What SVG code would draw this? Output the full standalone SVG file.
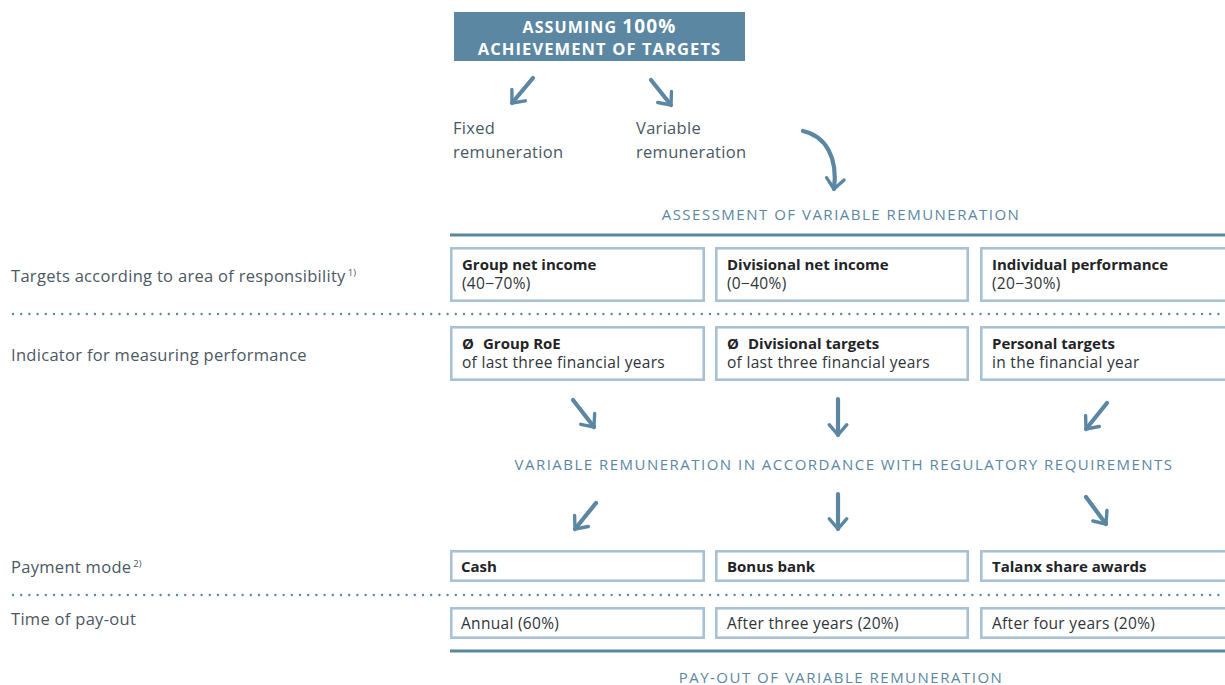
<svg xmlns="http://www.w3.org/2000/svg" width="1225" height="685" viewBox="0 0 1225 685">
<style>
.bg{fill:#ffffff}
.lbl{font-family:"Open Sans","Liberation Sans",sans-serif;font-size:16.5px;letter-spacing:0.3px;fill:#4b5863}
.sup{font-size:9.5px;letter-spacing:0}
.box{fill:#ffffff;stroke:#a8c1d4;stroke-width:2.6}
.bt{font-family:"Open Sans","Liberation Sans",sans-serif;font-size:15px;fill:#1f2428;font-weight:700}
.rt{font-family:"Open Sans","Liberation Sans",sans-serif;font-size:15.5px;letter-spacing:0.3px;fill:#2f3439}
.cap{font-family:"Open Sans","Liberation Sans",sans-serif;font-size:15px;fill:#5b87a3;letter-spacing:1.5px}
.rule{stroke:#5b87a3;stroke-width:3}
.dots{stroke:#5b87a3;stroke-width:2.4;stroke-dasharray:0 8.2;stroke-linecap:round}
.arr{fill:none;stroke:#5b87a3;stroke-width:4.2;stroke-linecap:round;stroke-linejoin:round}
.ttl{font-family:"Open Sans","Liberation Sans",sans-serif;font-weight:700;fill:#ffffff;letter-spacing:1.1px}
</style>
<defs>
<marker id="head" viewBox="-10 -10 20 20" markerWidth="7" markerHeight="7" orient="auto" markerUnits="strokeWidth" refX="0" refY="0">
<path d="M-7,-6 L0,0 L-7,6" fill="none" stroke="#5b87a3" stroke-width="2.3" stroke-linecap="round" stroke-linejoin="round"/>
</marker>
</defs>
<rect class="bg" x="0" y="0" width="1225" height="685"/>

<g id="title">
<rect x="454" y="12" width="291" height="49" fill="#5b87a3"/>
<text class="ttl" x="599.5" y="33" text-anchor="middle" font-size="16">ASSUMING <tspan font-size="19">100%</tspan></text>
<text class="ttl" x="599.5" y="55" text-anchor="middle" font-size="16.5">ACHIEVEMENT OF TARGETS</text>
</g>

<g id="fixed">
<text class="lbl" x="453" y="134">Fixed</text>
<text class="lbl" x="453" y="158">remuneration</text>
</g>
<g id="variable">
<text class="lbl" x="636" y="134">Variable</text>
<text class="lbl" x="636" y="158">remuneration</text>
</g>

<g id="assessment">
<text class="cap" x="841" y="220" text-anchor="middle">ASSESSMENT OF VARIABLE REMUNERATION</text>
<line class="rule" x1="450" y1="235" x2="1225" y2="235"/>
</g>

<g id="row-labels">
<text class="lbl" x="11" y="282">Targets according to area of responsibility<tspan class="sup" dx="2" dy="-6">1)</tspan></text>
<text class="lbl" x="11" y="361">Indicator for measuring performance</text>
<text class="lbl" x="11" y="573">Payment mode<tspan class="sup" dx="2" dy="-6">2)</tspan></text>
<text class="lbl" x="11" y="625">Time of pay-out</text>
<line class="dots" x1="13" y1="314" x2="1225" y2="314"/>
<line class="dots" x1="13" y1="595" x2="1225" y2="595"/>
</g>

<g id="group-net-income">
<rect class="box" x="451.3" y="248.3" width="252.4" height="52.4"/>
<text class="bt" x="462" y="270">Group net income</text>
<text class="rt" x="462" y="289">(40−70%)</text>
</g>
<g id="divisional-net-income">
<rect class="box" x="716.3" y="248.3" width="251.4" height="52.4"/>
<text class="bt" x="727" y="270">Divisional net income</text>
<text class="rt" x="727" y="289">(0−40%)</text>
</g>
<g id="individual-performance">
<rect class="box" x="981.3" y="248.3" width="260" height="52.4"/>
<text class="bt" x="992" y="270">Individual performance</text>
<text class="rt" x="992" y="289">(20−30%)</text>
</g>

<g id="group-roe">
<rect class="box" x="451.3" y="327.3" width="252.4" height="52.4"/>
<text class="bt" x="462" y="349">Ø<tspan dx="9">Group RoE</tspan></text>
<text class="rt" x="462" y="368">of last three financial years</text>
</g>
<g id="divisional-targets">
<rect class="box" x="716.3" y="327.3" width="251.4" height="52.4"/>
<text class="bt" x="727" y="349">Ø<tspan dx="9">Divisional targets</tspan></text>
<text class="rt" x="727" y="368">of last three financial years</text>
</g>
<g id="personal-targets">
<rect class="box" x="981.3" y="327.3" width="260" height="52.4"/>
<text class="bt" x="992" y="349">Personal targets</text>
<text class="rt" x="992" y="368">in the financial year</text>
</g>

<g id="regulatory">
<text class="cap" x="844" y="470" text-anchor="middle" textLength="659" lengthAdjust="spacingAndGlyphs" letter-spacing="0">VARIABLE REMUNERATION IN ACCORDANCE WITH REGULATORY REQUIREMENTS</text>
</g>

<g id="cash">
<rect class="box" x="451.3" y="551.3" width="252.4" height="29.4"/>
<text class="bt" x="461" y="572">Cash</text>
</g>
<g id="bonus-bank">
<rect class="box" x="716.3" y="551.3" width="251.4" height="29.4"/>
<text class="bt" x="727" y="572">Bonus bank</text>
</g>
<g id="talanx-share-awards">
<rect class="box" x="981.3" y="551.3" width="260" height="29.4"/>
<text class="bt" x="992" y="572">Talanx share awards</text>
</g>

<g id="annual">
<rect class="box" x="451.3" y="608.3" width="252.4" height="29.4"/>
<text class="rt" x="461" y="629">Annual (60%)</text>
</g>
<g id="after-three-years">
<rect class="box" x="716.3" y="608.3" width="251.4" height="29.4"/>
<text class="rt" x="727" y="629">After three years (20%)</text>
</g>
<g id="after-four-years">
<rect class="box" x="981.3" y="608.3" width="260" height="29.4"/>
<text class="rt" x="992" y="629">After four years (20%)</text>
</g>

<g id="payout">
<line class="rule" x1="450" y1="651" x2="1225" y2="651"/>
<text class="cap" x="841" y="683" text-anchor="middle">PAY-OUT OF VARIABLE REMUNERATION</text>
</g>

<g id="connectors">
<path class="arr" marker-end="url(#head)" d="M533,78 L512,103"/>
<path class="arr" marker-end="url(#head)" d="M651,80 L671,105"/>
<path class="arr" marker-end="url(#head)" d="M803,131 C826,136 838,158 834,189"/>
<path class="arr" marker-end="url(#head)" d="M573,400 L594,427"/>
<path class="arr" marker-end="url(#head)" d="M838,399 L838,435"/>
<path class="arr" marker-end="url(#head)" d="M1107,403 L1086,429"/>
<path class="arr" marker-end="url(#head)" d="M596,503 L575,529"/>
<path class="arr" marker-end="url(#head)" d="M838,494 L838,529"/>
<path class="arr" marker-end="url(#head)" d="M1086,497 L1106,524"/>
</g>
</svg>
